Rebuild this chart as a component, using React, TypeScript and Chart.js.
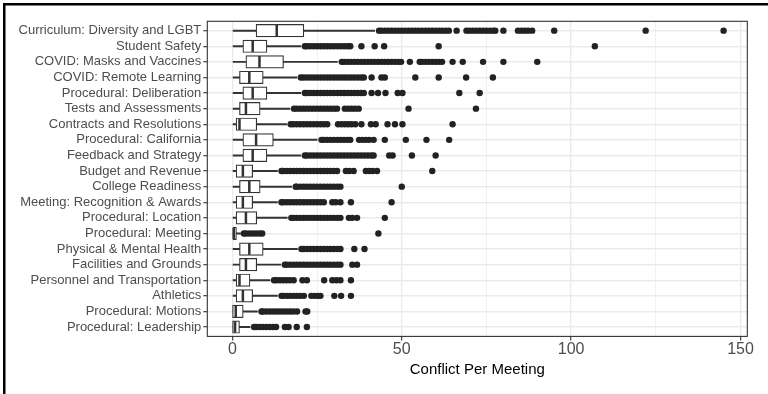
import React, { useEffect, useRef } from 'react';
import { Chart, registerables } from 'chart.js';

Chart.register(...registerables);

const FONT = '"Liberation Sans", Arial, Helvetica, sans-serif';

const categories = [
  'Curriculum: Diversity and LGBT',
  'Student Safety',
  'COVID: Masks and Vaccines',
  'COVID: Remote Learning',
  'Procedural: Deliberation',
  'Tests and Assessments',
  'Contracts and Resolutions',
  'Procedural: California',
  'Feedback and Strategy',
  'Budget and Revenue',
  'College Readiness',
  'Meeting: Recognition & Awards',
  'Procedural: Location',
  'Procedural: Meeting',
  'Physical & Mental Health',
  'Facilities and Grounds',
  'Personnel and Transportation',
  'Athletics',
  'Procedural: Motions',
  'Procedural: Leadership',
];

const q1 = [7.0, 3.1, 4.0, 2.1, 3.1, 2.1, 1.1, 3.1, 3.1, 1.1, 2.1, 1.1, 1.1, 0, 2.1, 2.1, 1.1, 1.1, 0.05, 0.05];
const medians = [13.1, 6.0, 8.0, 5.0, 6.0, 4.0, 2.1, 7.0, 6.0, 3.1, 5.0, 3.1, 4.0, 0.4, 5.0, 4.0, 2.1, 3.1, 1.0, 0.8];
const q3 = [21.1, 10.2, 15.1, 9.1, 10.2, 8.2, 7.2, 12.1, 10.2, 6.0, 8.2, 6.0, 7.2, 1.2, 9.1, 7.2, 5.2, 6.0, 3.2, 2.1];
const whiskerLow = [0, 0, 0, 0, 0, 0, 0, 0, 0, 0, 0, 0, 0, 0, 0, 0, 0, 0, 0, 0];
const whiskerHigh = [42, 20.2, 31, 19, 20.2, 17, 16, 25, 20.2, 13.3, 17.5, 13.3, 16.2, 2.4, 19.2, 14.3, 11.1, 13.3, 7.4, 5.2];

const outCurriculum = [43.3, 44, 45, 46, 47, 48, 49, 50, 51, 52, 53, 54, 55, 56, 57, 58, 59, 60, 61, 62, 63, 63.9, 66.2, 69.1, 70, 71, 72, 73, 74, 75, 76, 77, 77.6, 80, 84.3, 85.3, 86.3, 87.3, 88.5, 95, 122, 145];
const outSafety = [21.4, 22, 23, 24, 25, 26, 27, 28, 29, 30, 31, 32, 33, 34, 34.8, 38.1, 42, 44.8, 60.9, 107];
const outMasks = [32.3, 33, 34, 35, 36, 37, 38, 39, 40, 41, 42, 43, 44, 45, 46, 47, 48, 49, 49.8, 52.4, 55.3, 56, 57, 58, 59, 60, 61, 61.9, 65, 68, 74, 80, 90];
const outRemote = [20.2, 21, 22, 23, 24, 25, 26, 27, 28, 29, 30, 31, 32, 33, 34, 35, 36, 37, 38, 38.8, 41.1, 44, 45, 54, 60.9, 69, 76.9];
const outDeliberation = [21.4, 22, 23, 24, 25, 26, 27, 28, 29, 30, 31, 32, 33, 34, 35, 36, 37, 38, 38.8, 41.1, 43, 45.2, 48.8, 50.2, 67, 73];
const outTests = [18.2, 19, 20, 21, 22, 23, 24, 25, 26, 27, 28, 29, 30, 30.9, 33.2, 34.2, 35.2, 36.2, 37.3, 52, 71.9];
const outContracts = [17.2, 18, 19, 20, 21, 22, 23, 24, 25, 26, 27, 28, 31.2, 32.2, 33.2, 34.2, 35.2, 36.3, 38.1, 40.9, 42.3, 45.8, 48, 50.2, 65];
const outCalifornia = [26.3, 27, 28, 29, 30, 31, 32, 33, 34, 34.8, 37.4, 38.4, 39.4, 40.4, 41.7, 45, 51.2, 57.3, 64];
const outFeedback = [21.4, 22, 23, 24, 25, 26, 27, 28, 29, 30, 31, 32, 33, 34, 35, 36, 37, 38, 39, 40, 41, 41.7, 46.3, 47.3, 53, 60];
const outBudget = [14.5, 15, 16, 17, 18, 19, 20, 21, 22, 23, 24, 25, 26, 27, 28, 29, 30, 30.9, 33.5, 34.5, 35.8, 39.4, 40.4, 41.4, 42.7, 59];
const outCollege = [18.7, 19, 20, 21, 22, 23, 24, 25, 26, 27, 28, 29, 30, 31, 31.9, 50];
const outRecognition = [14.5, 15, 16, 17, 18, 19, 20, 21, 22, 23, 24, 25, 26, 27, 29.5, 30.5, 31.9, 35, 47];
const outLocation = [17.4, 18, 19, 20, 21, 22, 23, 24, 25, 26, 27, 28, 29, 30, 31, 31.9, 34.4, 35.4, 36.8, 45];
const outMeeting = [3.4, 4, 5, 6, 7, 8, 8.8, 43.1];
const outHealth = [20.4, 21, 22, 23, 24, 25, 26, 27, 28, 29, 30, 31, 31.9, 36, 39];
const outFacilities = [15.5, 16, 17, 18, 19, 20, 21, 22, 23, 24, 25, 26, 27, 28, 29, 30, 31, 31.9, 35.4, 36.8];
const outPersonnel = [12.3, 13, 14, 15, 16, 17, 18.1, 20.7, 22, 27.1, 29.5, 30.7, 31.9, 35];
const outAthletics = [14.5, 15, 16, 17, 18, 19, 20, 21.1, 23.3, 24.3, 25.3, 26, 30.1, 32.1, 35];
const outMotions = [8.6, 9, 10, 11, 12, 13, 14, 15, 16, 17, 18, 19.1, 21.6, 22.1];
const outLeadership = [6.4, 7, 8, 9, 10, 11, 12, 12.9, 15.5, 16.6, 19, 22];

const outliers = [
  outCurriculum, outSafety, outMasks, outRemote, outDeliberation, outTests, outContracts,
  outCalifornia, outFeedback, outBudget, outCollege, outRecognition, outLocation, outMeeting,
  outHealth, outFacilities, outPersonnel, outAthletics, outMotions, outLeadership,
];

const xTicks = [0, 25, 50, 75, 100, 125, 150];
const xLabelled = [0, 50, 100, 150];

const isMajor = (v: number) => xLabelled.indexOf(v) >= 0;

const framePlugin = {
  id: 'frame',
  afterDraw(chart: any) {
    const { ctx, chartArea: a } = chart;
    ctx.save();
    ctx.strokeStyle = '#333333';
    ctx.lineWidth = 1.1;
    ctx.strokeRect(a.left, a.top, a.right - a.left, a.bottom - a.top);
    ctx.fillStyle = '#000000';
    ctx.fillRect(3, 3, 2.5, chart.height - 3);
    ctx.fillRect(3, 3, chart.width - 3, 2.5);
    ctx.restore();
  },
};

export default function App() {
  const ref = useRef<HTMLCanvasElement | null>(null);

  useEffect(() => {
    if (!ref.current) return;
    Chart.defaults.font.family = FONT;

    const whiskerData = categories.map((_, i) => ({ x: [whiskerLow[i], whiskerHigh[i]], y: i }));
    const boxData = categories.map((_, i) => ({ x: [q1[i], q3[i]], y: i }));
    const medianData = categories.map((_, i) => ({ x: medians[i], y: i }));
    const outlierData: { x: number; y: number }[] = [];
    outliers.forEach((arr, i) => arr.forEach((v) => outlierData.push({ x: v, y: i })));

    const chart = new Chart(ref.current, {
      type: 'scatter',
      data: {
        datasets: [
          {
            type: 'bar',
            indexAxis: 'y',
            grouped: false,
            barThickness: 1.3,
            backgroundColor: '#333333',
            borderWidth: 0,
            data: whiskerData as any,
            order: 4,
          } as any,
          {
            type: 'bar',
            indexAxis: 'y',
            grouped: false,
            barThickness: 12.5,
            backgroundColor: '#ffffff',
            borderColor: '#333333',
            borderWidth: 1.2,
            borderSkipped: false,
            data: boxData as any,
            order: 3,
          } as any,
          {
            type: 'scatter',
            pointStyle: 'line',
            rotation: 90,
            radius: 5.8,
            borderWidth: 2.5,
            borderColor: '#333333',
            data: medianData,
            order: 2,
          } as any,
          {
            type: 'scatter',
            pointStyle: 'circle',
            radius: 3.2,
            borderWidth: 0,
            backgroundColor: '#222222',
            data: outlierData,
            order: 1,
          } as any,
        ],
      },
      options: {
        animation: false,
        responsive: false,
        events: [],
        layout: { padding: { left: 0, top: 21.3, right: 20.7, bottom: 0 } },
        plugins: {
          legend: { display: false },
          tooltip: { enabled: false },
        },
        scales: {
          x: {
            type: 'linear',
            min: -7.4,
            max: 152,
            offset: false,
            afterBuildTicks: (s: any) => {
              s.ticks = xTicks.map((v) => ({ value: v }));
            },
            afterFit: (s: any) => {
              s.height = 57.6;
            },
            ticks: {
              autoSkip: false,
              maxRotation: 0,
              padding: 0,
              color: '#4d4d4d',
              font: { family: FONT, size: 16 },
              callback: (v: any) => (isMajor(Number(v)) ? String(v) : ''),
            },
            grid: {
              offset: false,
              color: '#ebebeb',
              lineWidth: (ctx: any) => (ctx.tick && isMajor(ctx.tick.value) ? 1.4 : 0.7),
              tickColor: (ctx: any) => (ctx.tick && isMajor(ctx.tick.value) ? '#333333' : 'rgba(0,0,0,0)'),
              tickLength: 4,
              tickWidth: 1.1,
            },
            border: { display: false },
            title: {
              display: true,
              text: 'Conflict Per Meeting',
              color: '#000000',
              font: { family: FONT, size: 15 },
              padding: { top: 0, bottom: 15 },
            },
          } as any,
          y: {
            type: 'linear',
            min: -0.6,
            max: 19.6,
            reverse: true,
            offset: false,
            afterBuildTicks: (s: any) => {
              s.ticks = categories.map((_, i) => ({ value: i }));
            },
            afterFit: (s: any) => {
              s.width = 207.3;
            },
            ticks: {
              autoSkip: false,
              padding: 2,
              color: '#4d4d4d',
              font: { family: FONT, size: 13 },
              callback: (v: any) => categories[Number(v)] ?? '',
            },
            grid: {
              offset: false,
              color: '#ebebeb',
              lineWidth: 1.4,
              tickColor: '#333333',
              tickLength: 4,
              tickWidth: 1.1,
            },
            border: { display: false },
          } as any,
        },
      },
      plugins: [framePlugin],
    });

    return () => chart.destroy();
  }, []);

  return (
    <div style={{ position: 'fixed', left: 0, top: 0, width: 768, height: 394, background: '#ffffff' }}>
      <canvas ref={ref} width={768} height={394} style={{ display: 'block' }} />
    </div>
  );
}
